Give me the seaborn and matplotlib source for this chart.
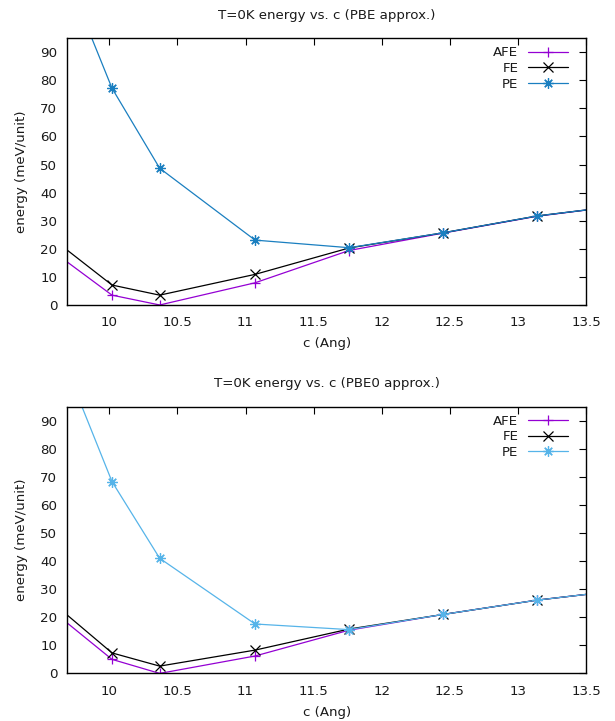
import numpy as np
import pandas as pd
import matplotlib
matplotlib.use("Agg")
import matplotlib.pyplot as plt
import seaborn as sns

# lattice parameter c (Angstrom)
c_values = [9.33, 10.02, 10.37, 11.07, 11.76, 12.45, 13.14, 13.83]

# PBE energies (meV/unit)
pbe_afe = [28.3, 3.5, 0.0, 7.9, 19.4, 25.6, 31.6, 35.8]
pbe_fe = [33.2, 7.1, 3.5, 10.9, 20.3, 25.7, 31.7, 35.8]
pbe_pe = [160.0, 77.2, 48.7, 23.1, 20.4, 25.7, 31.7, 35.8]

# PBE0 energies (meV/unit)
pbe0_afe = [32.2, 5.0, 0.0, 6.2, 15.4, 21.0, 26.1, 30.0]
pbe0_fe = [35.6, 7.3, 2.6, 8.3, 15.8, 21.0, 26.1, 30.0]
pbe0_pe = [151.8, 68.3, 41.0, 17.6, 15.6, 21.0, 26.1, 30.0]

phases = ["AFE", "FE", "PE"]
x_ticks = [10, 10.5, 11, 11.5, 12, 12.5, 13, 13.5]
y_ticks = [0, 10, 20, 30, 40, 50, 60, 70, 80, 90]

sns.set_theme(style="white")
plt.rcParams["font.family"] = ["DejaVu Sans"]
plt.rcParams["text.color"] = "#1a1a1a"
FS = 9.6
plt.rcParams["font.size"] = FS

asterisk = (8, 2, 0)
markers = {"AFE": "+", "FE": "x", "PE": asterisk}


def make_frame(afe, fe, pe):
    rows = []
    for name, vals in zip(phases, [afe, fe, pe]):
        for c, e in zip(c_values, vals):
            rows.append({"c": c, "energy": e, "phase": name})
    return pd.DataFrame(rows)


fig = plt.figure(figsize=(6.15, 7.21), dpi=100)
ax_top = fig.add_axes([0.109, 0.577, 0.844, 0.370])
ax_bot = fig.add_axes([0.109, 0.066, 0.844, 0.370])

panels = [
    (ax_top, make_frame(pbe_afe, pbe_fe, pbe_pe), "#1a7fc0",
     "T=0K energy vs. c (PBE approx.)"),
    (ax_bot, make_frame(pbe0_afe, pbe0_fe, pbe0_pe), "#56b4e9",
     "T=0K energy vs. c (PBE0 approx.)"),
]

for ax, df, pe_color, title in panels:
    palette = {"AFE": "#9400d3", "FE": "#000000", "PE": pe_color}
    sns.lineplot(data=df, x="c", y="energy", hue="phase", style="phase",
                 hue_order=phases, style_order=phases, palette=palette,
                 markers=markers, dashes=False, linewidth=0.9,
                 markersize=7.5, markeredgewidth=0.9, ax=ax, sort=False)
    # marks drawn as open symbols in the line colour
    for line in ax.lines:
        line.set_markeredgecolor(line.get_color())
        line.set_markerfacecolor(line.get_color())
    ax.set_xlim(9.69, 13.5)
    ax.set_ylim(0, 95)
    ax.set_xticks(x_ticks)
    ax.set_xticklabels([f"{t:g}" for t in x_ticks])
    ax.set_yticks(y_ticks)
    ax.tick_params(direction="in", length=5, width=0.8, top=True, right=True,
                   labelsize=FS, colors="black", labelcolor="#1a1a1a", pad=7)
    ax.tick_params(axis="x", pad=8)
    for spine in ax.spines.values():
        spine.set_color("black")
        spine.set_linewidth(1.0)
    ax.set_xlabel("c (Ang)", fontsize=FS, labelpad=6, color="#1a1a1a")
    ax.set_ylabel("energy (meV/unit)", fontsize=FS, labelpad=9, color="#1a1a1a")
    ax.set_title(title, fontsize=FS, pad=14, color="#1a1a1a")
    handles, labels = ax.get_legend_handles_labels()
    for h in handles:
        h.set_markeredgecolor(h.get_color())
        h.set_markerfacecolor(h.get_color())
    ax.legend(handles, labels, loc="upper right", frameon=False,
              markerfirst=False, handlelength=3.0, fontsize=FS,
              borderaxespad=0.2, labelspacing=0.2, handletextpad=0.7,
              bbox_to_anchor=(0.98, 1.0))

fig.savefig("out.png", dpi=100)
